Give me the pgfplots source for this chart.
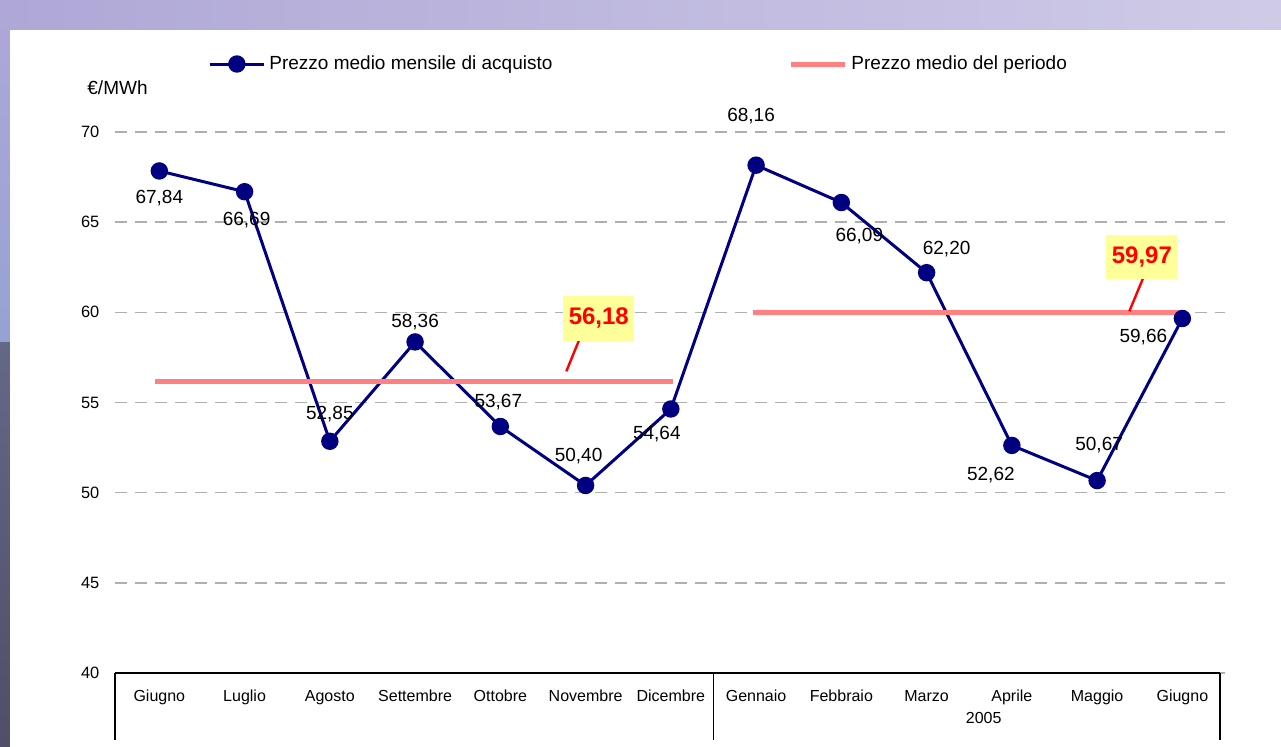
\documentclass[border=0pt]{standalone}
\usepackage{pgfplots}
\usepackage{pgfplotstable}
\pgfplotsset{compat=1.18}
\usepackage{fontspec}
\setmainfont{Liberation Sans}
\definecolor{navyline}{RGB}{0,0,128}
\definecolor{avgpink}{RGB}{255,128,128}
\definecolor{callout}{RGB}{255,255,153}
\definecolor{gridgray}{RGB}{175,175,175}
\definecolor{slidetop}{RGB}{175,168,215}
\definecolor{slideleft}{RGB}{150,162,212}
\definecolor{slidemid}{RGB}{100,104,135}
\definecolor{slidedark}{RGB}{80,78,105}

% monthly price, label offsets (pt), label text
\pgfplotstableread{
x  y     dx     dy     lab
0  67.84 0      -13.75 67,84
1  66.69 1      -14    66,69
2  52.85 0      13.5   52,85
3  58.36 0      10     58,36
4  53.67 -1     12     53,67
5  50.40 -3.5   14.5   50,40
6  54.64 -7     -12.5  54,64
7  68.16 -2.5   24.5   68,16
8  66.09 9      -17    66,09
9  62.20 10     12     62,20
10 52.62 -10.5  -15    52,62
11 50.67 1      18     50,67
12 59.66 -19.5  -9.5   59,66
}\prices

\begin{document}
\begin{tikzpicture}
% slide background
\fill[slidetop] (-57.5pt,-36.5pt) rectangle (583pt,336.5pt);
\shade[top color=slidemid, bottom color=slidedark] (-57.5pt,-36.5pt) rectangle (-52.5pt,166pt);
\shade[top color=slidetop, bottom color=slideleft] (-57.5pt,166pt) rectangle (-52.5pt,336.5pt);
\shade[left color=slidetop, right color=slidetop!60!white] (-52.5pt,321.5pt) rectangle (583pt,336.5pt);
\fill[white] (-52.5pt,-36.5pt) rectangle (583pt,321.5pt);

\begin{axis}[
    at={(0pt,0pt)}, anchor=south west,
    scale only axis,
    width=555pt, height=270.5pt,
    xmin=-0.52, xmax=12.5,
    ymin=40, ymax=70,
    clip=false,
    axis x line=bottom,
    axis y line=left,
    x axis line style={draw=none},
    y axis line style={draw=none},
    major tick length=0pt,
    xtick={0,...,12},
    xticklabels={Giugno,Luglio,Agosto,Settembre,Ottobre,Novembre,Dicembre,Gennaio,Febbraio,Marzo,Aprile,Maggio,Giugno},
    ytick={40,45,...,70},
    xticklabel style={font=\fontsize{8}{9.6}\selectfont, anchor=base, yshift=-14.4pt},
    yticklabel style={font=\fontsize{8.2}{9.8}\selectfont, xshift=-4.3pt},
    /pgf/number format/assume math mode=true,
    ymajorgrids,
    grid style={gridgray, line width=0.7pt, dash pattern=on 6pt off 4pt},
    legend columns=2,
    legend style={at={(0.0838,1.1257)}, anchor=west, draw=none, fill=none,
        inner sep=0pt, font=\fontsize{9.5}{11.5}\selectfont,
        /tikz/every even column/.append style={column sep=116pt}},
    legend cell align=left,
    legend image code/.code={\draw[mark repeat=2,mark phase=2,#1] plot coordinates {(0pt,0pt) (13.5pt,0pt) (27pt,0pt)};},
]
\addplot[navyline, line width=1.5pt, mark=*, mark size=3.6pt,
    mark options={fill=navyline, draw=navyline},
    point meta=explicit symbolic,
    nodes near coords,
    visualization depends on={\thisrow{dx}\as\dx},
    visualization depends on={\thisrow{dy}\as\dy},
    nodes near coords style={font=\fontsize{9.5}{11}\selectfont, text=black, anchor=center,
        xshift=\dx pt, yshift=\dy pt},
] table[x=x, y=y, meta=lab] {\prices};
\addlegendentry{Prezzo medio mensile di acquisto}

\addplot[avgpink, line width=2.5pt] coordinates {(-0.05,56.18) (6.03,56.18)};
\addlegendentry{Prezzo medio del periodo}
\addplot[avgpink, line width=2.5pt, forget plot] coordinates {(6.96,59.97) (12,59.97)};

% callouts
\draw[red, line width=1.2pt] (axis cs:4.927,58.50) -- (axis cs:4.774,56.73);
\node[fill=callout, text=red, font=\bfseries\fontsize{12}{14}\selectfont,
    minimum width=35.5pt, minimum height=22.5pt, inner sep=0pt] at (axis cs:5.155,59.67) {56,18};
\draw[red, line width=1.2pt] (axis cs:11.543,61.94) -- (axis cs:11.378,60.06);
\node[fill=callout, text=red, font=\bfseries\fontsize{12}{14}\selectfont,
    minimum width=35.5pt, minimum height=22pt, inner sep=0pt] at (axis cs:11.525,63.05) {59,97};

% category axis box, separators and year
\draw[black, line width=0.8pt] (axis cs:-0.52,40) -- (axis cs:12.44,40);
\draw[black, line width=0.8pt] (axis cs:-0.52,40) -- ++(0pt,-33.5pt);
\draw[black, line width=0.8pt] (axis cs:6.5,40) -- ++(0pt,-33.5pt);
\draw[black, line width=0.8pt] (axis cs:12.44,40) -- ++(0pt,-33.5pt);
\node[anchor=base, font=\fontsize{8}{9.6}\selectfont, inner sep=0pt] at ([yshift=-25pt]axis cs:9.67,40) {2005};

% unit label
\node[anchor=west, font=\fontsize{9.5}{11}\selectfont, inner sep=0pt] at (rel axis cs:-0.0252,1.0813) {€/MWh};
\end{axis}
\end{tikzpicture}
\end{document}
